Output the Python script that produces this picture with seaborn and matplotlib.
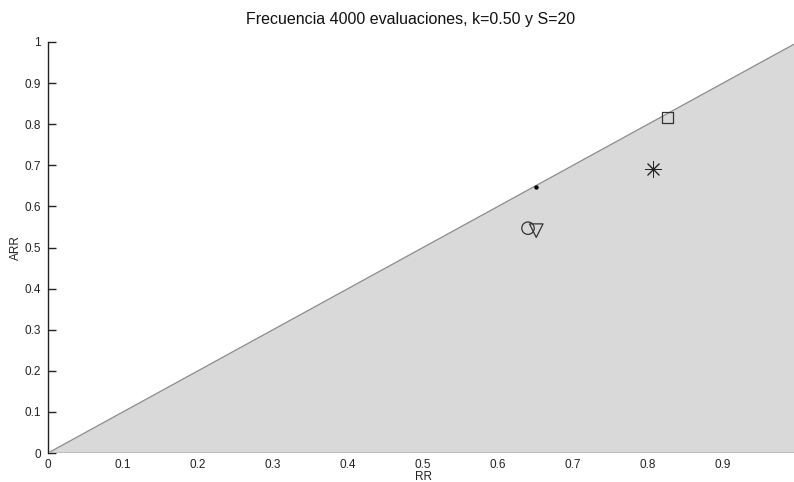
import matplotlib
matplotlib.use("Agg")
import matplotlib.pyplot as plt
import seaborn as sns
import numpy as np
import pandas as pd

title = "Frecuencia 4000 evaluaciones, k=0.50 y S=20"
rr = [0.650, 0.826, 0.806, 0.640, 0.651]
arr = [0.648, 0.817, 0.690, 0.547, 0.541]
markers = [".", "s", (8, 2, 0), "o", "v"]
xticks = [0, 0.1, 0.2, 0.3, 0.4, 0.5, 0.6, 0.7, 0.8, 0.9]
yticks = [0, 0.1, 0.2, 0.3, 0.4, 0.5, 0.6, 0.7, 0.8, 0.9, 1]
diag_x = [0, 1]
diag_y = [0, 1]

sns.set_style("white")
plt.rcParams['font.family'] = ['Liberation Sans', 'DejaVu Sans']

fig = plt.figure(figsize=(7.94, 4.82), dpi=100)
W, H = 794, 482
x0, x1 = 48, 798
y0, y1 = 453, 42
ax = fig.add_axes([x0 / W, 1 - y0 / H, (x1 - x0) / W, (y0 - y1) / H])
ax.set_xlim(0, 1)
ax.set_ylim(0, 1)

ax.fill_between(diag_x, 0, diag_y, facecolor="#d9d9d9", edgecolor="none", zorder=1)
sns.lineplot(x=diag_x, y=diag_y, ax=ax, color="#8c8c8c", lw=0.9, zorder=2)
ax.axhline(0, color="#c0c0c0", lw=1.5, zorder=2)

sizes = {"s": 60, "o": 80, "v": 95}
for x, y, m in zip(rr, arr, markers):
    if m == ".":
        sns.scatterplot(x=[x], y=[y], ax=ax, marker="o", s=10, color="black",
                        edgecolor="black", linewidth=0, zorder=5)
    elif isinstance(m, tuple):
        sns.scatterplot(x=[x], y=[y], ax=ax, marker=m, s=130, color="#222222",
                        linewidth=0.7, zorder=5)
    else:
        sns.scatterplot(x=[x], y=[y], ax=ax, marker=m, s=sizes[m], facecolor="none",
                        edgecolor="#333333", linewidth=0.9, zorder=5)

ax.set_xticks(xticks)
ax.set_xticklabels([f"{t:g}" for t in xticks])
ax.set_yticks(yticks)
ax.set_yticklabels([f"{t:g}" for t in yticks])
ax.tick_params(axis="x", length=0, pad=4, labelsize=8.5, colors="#222222")
ax.tick_params(axis="y", direction="in", length=6, width=1, labelsize=8.5,
               colors="#222222", pad=5, left=True)

for s in ["top", "right", "bottom"]:
    ax.spines[s].set_visible(False)
ax.spines["left"].set_color("#222222")
ax.spines["left"].set_linewidth(1)

ax.set_xlabel("RR", fontsize=8.5, labelpad=0, color="#222222")
ax.set_ylabel("ARR", fontsize=8.5, labelpad=2, color="#222222")
ax.set_title(title, fontsize=11.5, pad=13, color="#111111", x=0.483)

fig.savefig("out.png", dpi=100)
